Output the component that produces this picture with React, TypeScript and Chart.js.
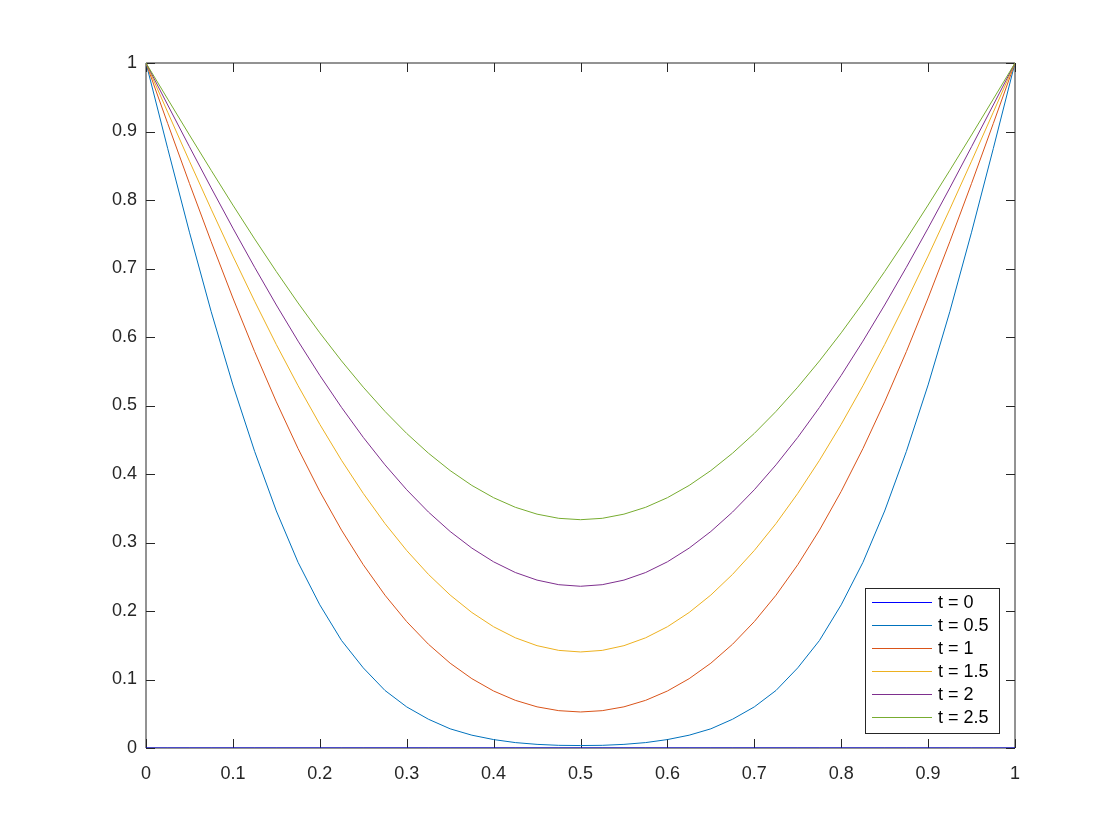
import React, { useEffect, useRef } from "react";
import { Chart, registerables } from "chart.js";

Chart.register(...registerables);

const xValues = [
  0, 0.025, 0.05, 0.075, 0.1, 0.125, 0.15, 0.175, 0.2, 0.225, 0.25, 0.275, 0.3, 0.325, 0.35, 0.375, 0.4, 0.425, 0.45, 0.475,
  0.5, 0.525, 0.55, 0.575, 0.6, 0.625, 0.65, 0.675, 0.7, 0.725, 0.75, 0.775, 0.8, 0.825, 0.85, 0.875, 0.9, 0.925, 0.95, 0.975, 1,
];

const seriesT0 = [
  0, 0, 0, 0, 0, 0, 0, 0, 0, 0, 0, 0, 0, 0, 0, 0, 0, 0, 0, 0,
  0, 0, 0, 0, 0, 0, 0, 0, 0, 0, 0, 0, 0, 0, 0, 0, 0, 0, 0, 0, 0,
];

const seriesT05 = [
  1, 0.875, 0.753, 0.637, 0.53, 0.433, 0.346, 0.271, 0.209, 0.157, 0.117, 0.084, 0.06, 0.042, 0.028, 0.0187, 0.0123, 0.0079, 0.0053, 0.0039,
  0.0036, 0.0039, 0.0053, 0.0079, 0.0123, 0.0187, 0.028, 0.042, 0.06, 0.084, 0.117, 0.157, 0.209, 0.271, 0.346, 0.433, 0.53, 0.637, 0.753, 0.875, 1,
];

const seriesT1 = [
  1, 0.9116, 0.8242, 0.7391, 0.6569, 0.5787, 0.5053, 0.4371, 0.3746, 0.3181, 0.2676, 0.2231, 0.1845, 0.1515, 0.1238, 0.1012, 0.0832, 0.0696, 0.0601, 0.0545,
  0.0526, 0.0545, 0.0601, 0.0696, 0.0832, 0.1012, 0.1238, 0.1515, 0.1845, 0.2231, 0.2676, 0.3181, 0.3746, 0.4371, 0.5053, 0.5787, 0.6569, 0.7391, 0.8242, 0.9116, 1,
];

const seriesT15 = [
  1, 0.9281, 0.8567, 0.7866, 0.7182, 0.6522, 0.5889, 0.5289, 0.4725, 0.42, 0.3717, 0.3277, 0.2883, 0.2535, 0.2233, 0.1978, 0.177, 0.1609, 0.1494, 0.1425,
  0.1402, 0.1425, 0.1494, 0.1609, 0.177, 0.1978, 0.2233, 0.2535, 0.2883, 0.3277, 0.3717, 0.42, 0.4725, 0.5289, 0.5889, 0.6522, 0.7182, 0.7866, 0.8567, 0.9281, 1,
];

const seriesT2 = [
  1, 0.9387, 0.8778, 0.8177, 0.7589, 0.7018, 0.6467, 0.594, 0.544, 0.4972, 0.4535, 0.4134, 0.377, 0.3445, 0.3161, 0.2918, 0.2718, 0.2562, 0.2451, 0.2384,
  0.2361, 0.2384, 0.2451, 0.2562, 0.2718, 0.2918, 0.3161, 0.3445, 0.377, 0.4134, 0.4535, 0.4972, 0.544, 0.594, 0.6467, 0.7018, 0.7589, 0.8177, 0.8778, 0.9387, 1,
];

const seriesT25 = [
  1, 0.9473, 0.8949, 0.8433, 0.7926, 0.7432, 0.6955, 0.6497, 0.6061, 0.5651, 0.5268, 0.4914, 0.4592, 0.4304, 0.405, 0.3833, 0.3654, 0.3514, 0.3414, 0.3353,
  0.3333, 0.3353, 0.3414, 0.3514, 0.3654, 0.3833, 0.405, 0.4304, 0.4592, 0.4914, 0.5268, 0.5651, 0.6061, 0.6497, 0.6955, 0.7432, 0.7926, 0.8433, 0.8949, 0.9473, 1,
];

const seriesLabels = ["t = 0", "t = 0.5", "t = 1", "t = 1.5", "t = 2", "t = 2.5"];
const seriesColors = ["#0000FF", "#0072BD", "#D95319", "#EDB120", "#7E2F8E", "#77AC30"];
const seriesValues = [seriesT0, seriesT05, seriesT1, seriesT15, seriesT2, seriesT25];

const xTickValues = [0, 0.1, 0.2, 0.3, 0.4, 0.5, 0.6, 0.7, 0.8, 0.9, 1];
const xTickLabels = ["0", "0.1", "0.2", "0.3", "0.4", "0.5", "0.6", "0.7", "0.8", "0.9", "1"];
const yTickValues = [0, 0.1, 0.2, 0.3, 0.4, 0.5, 0.6, 0.7, 0.8, 0.9, 1];
const yTickLabels = ["0", "0.1", "0.2", "0.3", "0.4", "0.5", "0.6", "0.7", "0.8", "0.9", "1"];

const AXIS_COLOR = "#262626";
const FONT_FAMILY = "'Liberation Sans', Arial, Helvetica, sans-serif";
const FONT_SIZE = 18;

const framePlugin = {
  id: "matlabFrame",
  beforeDatasetsDraw(chart: any) {
    const { ctx, chartArea } = chart;
    const xs = chart.scales.x;
    const ys = chart.scales.y;
    const tickLen = 9;
    ctx.save();
    ctx.strokeStyle = AXIS_COLOR;
    ctx.lineWidth = 1;
    ctx.beginPath();
    ctx.rect(chartArea.left, chartArea.top, chartArea.right - chartArea.left, chartArea.bottom - chartArea.top);
    xTickValues.forEach((v) => {
      const px = Math.round(xs.getPixelForValue(v)) + 0.5;
      ctx.moveTo(px, chartArea.bottom);
      ctx.lineTo(px, chartArea.bottom - tickLen);
      ctx.moveTo(px, chartArea.top);
      ctx.lineTo(px, chartArea.top + tickLen);
    });
    yTickValues.forEach((v) => {
      const py = Math.round(ys.getPixelForValue(v)) + 0.5;
      ctx.moveTo(chartArea.left, py);
      ctx.lineTo(chartArea.left + tickLen, py);
      ctx.moveTo(chartArea.right, py);
      ctx.lineTo(chartArea.right - tickLen, py);
    });
    ctx.stroke();
    ctx.restore();
  },
};

const legendPlugin = {
  id: "matlabLegend",
  afterDraw(chart: any) {
    const { ctx, chartArea } = chart;
    const boxW = 134;
    const boxH = 145;
    const right = chartArea.right - 16;
    const bottom = chartArea.bottom - 15;
    const left = right - boxW;
    const top = bottom - boxH;
    ctx.save();
    ctx.fillStyle = "#ffffff";
    ctx.fillRect(left, top, boxW, boxH);
    ctx.strokeStyle = AXIS_COLOR;
    ctx.lineWidth = 1;
    ctx.strokeRect(Math.round(left) + 0.5, Math.round(top) + 0.5, boxW, boxH);
    ctx.font = `${FONT_SIZE}px ${FONT_FAMILY}`;
    ctx.textBaseline = "middle";
    ctx.textAlign = "left";
    chart.data.datasets.forEach((ds: any, i: number) => {
      const y = Math.round(top + 14 + i * 23) + 0.5;
      ctx.strokeStyle = ds.borderColor;
      ctx.beginPath();
      ctx.moveTo(left + 7, y);
      ctx.lineTo(left + 67, y);
      ctx.stroke();
      ctx.fillStyle = "#000000";
      ctx.fillText(ds.label, left + 73, y + 1);
    });
    ctx.restore();
  },
};

export default function App() {
  const canvasRef = useRef<HTMLCanvasElement | null>(null);

  useEffect(() => {
    document.body.style.margin = "0";
    const canvas = canvasRef.current;
    if (!canvas) return;
    const datasets = seriesValues.map((vals, i) => ({
      label: seriesLabels[i],
      data: xValues.map((x, j) => ({ x, y: vals[j] })),
      borderColor: seriesColors[i],
      backgroundColor: seriesColors[i],
      borderWidth: 1,
      pointRadius: 0,
      tension: 0,
      fill: false,
      order: seriesValues.length - i,
    }));
    const chart = new Chart(canvas, {
      type: "line",
      data: { datasets },
      options: {
        responsive: false,
        animation: false,
        events: [],
        layout: { padding: { top: 63, right: 105, left: 0, bottom: 0 } },
        plugins: { legend: { display: false }, tooltip: { enabled: false } },
        scales: {
          x: {
            type: "linear",
            min: 0,
            max: 1,
            afterFit: (s: any) => {
              s.height = 92;
            },
            afterBuildTicks: (s: any) => {
              s.ticks = xTickValues.map((v) => ({ value: v }));
            },
            grid: { display: false, drawTicks: false },
            border: { display: false },
            ticks: {
              padding: 15,
              color: AXIS_COLOR,
              font: { family: FONT_FAMILY, size: FONT_SIZE },
              maxRotation: 0,
              autoSkip: false,
              callback: (_v: any, idx: number) => xTickLabels[idx],
            },
          },
          y: {
            type: "linear",
            min: 0,
            max: 1,
            afterFit: (s: any) => {
              s.width = 146;
            },
            afterBuildTicks: (s: any) => {
              s.ticks = yTickValues.map((v) => ({ value: v }));
            },
            grid: { display: false, drawTicks: false },
            border: { display: false },
            ticks: {
              padding: 9,
              color: AXIS_COLOR,
              font: { family: FONT_FAMILY, size: FONT_SIZE },
              autoSkip: false,
              callback: (_v: any, idx: number) => yTickLabels[idx],
            },
          },
        },
      },
      plugins: [framePlugin, legendPlugin],
    });
    return () => chart.destroy();
  }, []);

  return (
    <div style={{ position: "fixed", left: 0, top: 0, width: 1120, height: 840, background: "#ffffff" }}>
      <canvas ref={canvasRef} width={1120} height={840} style={{ width: 1120, height: 840, display: "block" }} />
    </div>
  );
}
